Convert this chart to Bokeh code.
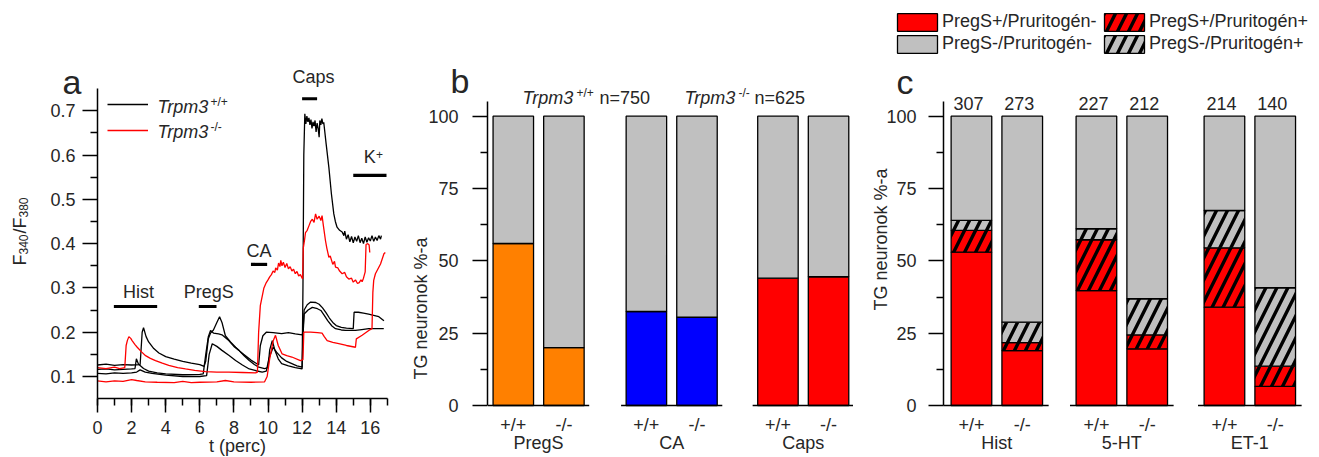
import math
from bokeh.plotting import figure
from bokeh.layouts import row
from bokeh.models import (FixedTicker, Label, LabelSet, Legend, LegendItem,
                          ColumnDataSource, Range1d, LinearAxis)
from bokeh.core.properties import value
from bokeh.embed import file_html
from bokeh.resources import INLINE

FONT = "Liberation Sans"
TXT = "#262626"

# ---------------- panel a: calcium traces (t in min, F340/F380) ----------------
wt1_t = [0, 0.5, 1.0, 1.5, 2.0, 2.5, 2.62, 2.7, 2.85, 3.0, 3.3, 3.6, 4.0, 4.5, 5.0, 5.5, 6.0, 6.25,
         6.35, 6.5, 6.63, 6.8, 7.0, 7.16, 7.3, 7.5, 7.8, 8.1, 8.4, 8.7, 9.0, 9.3, 9.45, 9.55, 9.7,
         9.9, 10.3, 10.8, 11.2, 11.6, 12.0, 12.05, 12.12, 12.3, 12.5, 12.8, 13.0, 13.2, 13.4, 13.6,
         13.8, 14.0, 14.3, 14.6, 15.0, 15.05, 15.3, 15.6, 15.9, 16.2, 16.5, 16.8]
wt1_v = [0.126, 0.128, 0.125, 0.127, 0.126, 0.127, 0.2, 0.21, 0.19, 0.178, 0.163, 0.153, 0.145,
         0.139, 0.134, 0.13, 0.127, 0.123, 0.135, 0.185, 0.198, 0.205, 0.222, 0.235, 0.222, 0.192,
         0.178, 0.166, 0.155, 0.146, 0.137, 0.13, 0.126, 0.17, 0.192, 0.2, 0.199, 0.197, 0.199,
         0.196, 0.194, 0.2, 0.25, 0.262, 0.268, 0.267, 0.263, 0.255, 0.244, 0.232, 0.222, 0.215,
         0.211, 0.209, 0.208, 0.245, 0.245, 0.243, 0.241, 0.238, 0.235, 0.226]

wt2_t = [0, 0.5, 1.0, 1.5, 2.0, 2.2, 2.28, 2.4, 2.7, 3.0, 3.5, 4.0, 5.0, 6.0, 6.2, 6.35, 6.5, 6.63,
         6.8, 7.1, 7.3, 7.7, 8.0, 8.3, 8.6, 8.9, 9.2, 9.46, 9.8, 10.0, 10.1, 10.25, 10.4, 10.6,
         10.8, 11.2, 11.6, 12.0, 12.05, 12.1, 12.16, 12.22, 12.28, 12.34, 12.4, 12.46, 12.52,
         12.58, 12.64, 12.7, 12.76, 12.82, 12.88, 12.94, 13.0, 13.04, 13.1, 13.16, 13.22, 13.27,
         13.41, 13.57, 13.72, 13.86, 13.95, 14.05, 14.2, 14.35, 14.45, 14.5, 14.6, 14.7, 14.8,
         14.9, 15.0, 15.1, 15.2, 15.3, 15.4, 15.5, 15.6, 15.7, 15.8, 15.9, 16.0, 16.1, 16.2, 16.3,
         16.4, 16.5, 16.6, 16.65]
wt2_v = [0.116, 0.117, 0.115, 0.116, 0.117, 0.118, 0.14, 0.128, 0.118, 0.112, 0.108, 0.106, 0.104,
         0.105, 0.106, 0.15, 0.19, 0.204, 0.198, 0.196, 0.194, 0.181, 0.168, 0.159, 0.147, 0.136,
         0.127, 0.121, 0.118, 0.12, 0.16, 0.181, 0.16, 0.14, 0.129, 0.124, 0.12, 0.117, 0.3, 0.6,
         0.693, 0.67, 0.688, 0.675, 0.684, 0.668, 0.68, 0.66, 0.675, 0.665, 0.678, 0.652, 0.672,
         0.66, 0.64, 0.678, 0.668, 0.682, 0.67, 0.674, 0.625, 0.572, 0.512, 0.467, 0.45, 0.437,
         0.43, 0.426, 0.418, 0.428, 0.41, 0.42, 0.404, 0.416, 0.402, 0.415, 0.405, 0.418, 0.402,
         0.412, 0.4, 0.415, 0.403, 0.413, 0.406, 0.418, 0.405, 0.415, 0.407, 0.418, 0.41, 0.418]

wt3_t = [0, 0.5, 1.0, 1.5, 2.0, 2.3, 2.5, 2.8, 3.2, 4.0, 5.0, 6.0, 6.4, 6.55, 6.73, 7.0, 7.3, 7.7,
         8.1, 8.5, 8.9, 9.3, 9.66, 9.9, 10.05, 10.3, 10.5, 10.8, 11.1, 11.4, 11.7, 12.0, 12.05,
         12.12, 12.35, 12.6, 12.9, 13.1, 13.3, 13.5, 13.75, 13.96, 14.3, 14.55, 15.13, 15.5, 15.91,
         16.4, 16.79]
wt3_v = [0.107, 0.106, 0.108, 0.107, 0.108, 0.11, 0.115, 0.11, 0.107, 0.103, 0.1, 0.1, 0.102,
         0.15, 0.174, 0.168, 0.159, 0.148, 0.136, 0.126, 0.117, 0.113, 0.11, 0.112, 0.14, 0.166,
         0.155, 0.142, 0.134, 0.129, 0.124, 0.121, 0.19, 0.241, 0.25, 0.256, 0.253, 0.249, 0.238,
         0.226, 0.214, 0.208, 0.205, 0.204, 0.204, 0.206, 0.208, 0.208, 0.208]

ko1_t = [0, 0.5, 1.0, 1.3, 1.6, 1.68, 1.75, 1.84, 1.95, 2.03, 2.2, 2.33, 2.6, 2.82, 3.1, 3.4, 3.8,
         4.18, 4.7, 5.16, 5.7, 6.33, 7.0, 7.7, 8.5, 9.27, 9.38, 9.45, 9.55, 9.76, 9.9, 10.0, 10.1,
         10.2, 10.3, 10.4, 10.45, 10.55, 10.62, 10.7, 10.75, 10.82, 10.9, 11.0, 11.1, 11.2, 11.3,
         11.4, 11.5, 11.6, 11.7, 11.8, 11.9, 12.03, 12.07, 12.15, 12.2, 12.3, 12.4, 12.5, 12.6,
         12.7, 12.79, 12.88, 13.0, 13.1, 13.17, 13.25, 13.37, 13.45, 13.57, 13.65, 13.8, 13.9,
         13.96, 14.1, 14.2, 14.35, 14.5, 14.6, 14.74, 14.9, 15.0, 15.13, 15.25, 15.35, 15.45,
         15.52, 15.6, 15.7, 15.75, 15.85, 15.93, 15.97]
ko1_v = [0.12, 0.118, 0.121, 0.118, 0.12, 0.17, 0.181, 0.19, 0.186, 0.181, 0.172, 0.166, 0.155,
         0.147, 0.141, 0.136, 0.13, 0.125, 0.12, 0.117, 0.114, 0.111, 0.11, 0.11, 0.109, 0.108,
         0.11, 0.2, 0.26, 0.3, 0.312, 0.318, 0.325, 0.33, 0.338, 0.335, 0.345, 0.34, 0.356, 0.348,
         0.362, 0.35, 0.358, 0.346, 0.355, 0.343, 0.348, 0.338, 0.342, 0.332, 0.337, 0.327, 0.33,
         0.32, 0.39, 0.41, 0.425, 0.43, 0.44, 0.45, 0.455, 0.448, 0.467, 0.455, 0.462, 0.452,
         0.463, 0.44, 0.407, 0.39, 0.369, 0.372, 0.353, 0.36, 0.347, 0.345, 0.338, 0.332, 0.335,
         0.325, 0.32, 0.322, 0.313, 0.318, 0.31, 0.312, 0.318, 0.314, 0.322, 0.336, 0.398, 0.4,
         0.397, 0.38]

ko2_t = [0, 0.5, 1.0, 1.5, 2.0, 2.3, 2.8, 3.5, 4.5, 5.0, 5.5, 6.0, 7.0, 7.5, 8.0, 9.0, 9.8, 9.95,
         10.1, 10.3, 10.44, 10.6, 10.83, 11.1, 11.4, 11.9, 12.05, 12.1, 12.5, 12.9, 13.17, 13.3,
         13.47, 13.8, 14.15, 14.6, 15.13, 15.18, 15.52, 15.91, 16.1, 16.15, 16.2, 16.3, 16.6, 16.8,
         16.88]
ko2_v = [0.09, 0.088, 0.09, 0.089, 0.093, 0.091, 0.088, 0.087, 0.086, 0.089, 0.086, 0.087, 0.088,
         0.091, 0.088, 0.087, 0.088, 0.1, 0.14, 0.18, 0.193, 0.17, 0.151, 0.147, 0.144, 0.136,
         0.138, 0.2, 0.2, 0.199, 0.198, 0.19, 0.181, 0.177, 0.174, 0.17, 0.166, 0.185, 0.193,
         0.204, 0.208, 0.29, 0.317, 0.332, 0.354, 0.377, 0.38]

stim_names = ["Hist", "PregS", "CA", "Caps", "K"]
stim_start = [0.96, 5.94, 9.0, 12.0, 15.0]
stim_end = [3.5, 6.98, 9.95, 12.88, 16.95]
stim_level = [0.258, 0.258, 0.353, 0.727, 0.554]

# ---------------- panel b ----------------
b_groups = ["PregS", "CA", "Caps"]
b_genotypes = ["+/+", "-/-"]
b_positive = [56.0, 20.0, 32.5, 30.5, 44.0, 44.5]   # % responders (+/+, -/- per group)
b_colors = ["#FF8000", "#0000FF", "#FF0000"]
n_wt, n_ko = 750, 625

# ---------------- panel c ----------------
c_groups = ["Hist", "5-HT", "ET-1"]
c_counts = [307, 273, 227, 212, 214, 140]
c_pregs_pos_prur_neg = [53.0, 19.0, 39.7, 19.6, 34.0, 6.6]
c_pregs_pos_prur_pos = [7.5, 2.7, 17.6, 4.8, 20.5, 7.0]
c_pregs_neg_prur_pos = [3.5, 7.1, 3.8, 12.5, 12.9, 27.1]

# ---------------- layout (page pixels) ----------------
H = 457
A_X0, A_W = 0, 400
B_X0, B_W = 400, 453
C_X0, C_W = 853, 466
half = math.pi / 2


def ranges(x0_page, width, axis_px, px_per_x, axis_py, py_per_y, y_at_axis):
    xs = (x0_page - axis_px) / px_per_x
    xe = (x0_page + width - axis_px) / px_per_x
    ye = y_at_axis + axis_py / py_per_y
    ys = y_at_axis - (H - axis_py) / py_per_y
    return Range1d(xs, xe), Range1d(ys, ye)


def style_axis(ax, standoff, tick_out=14, minor_out=7):
    ax.axis_line_width = 1.5
    ax.axis_line_color = "black"
    ax.major_tick_line_width = 1.5
    ax.minor_tick_line_width = 1.5
    ax.major_tick_in = 0
    ax.major_tick_out = tick_out
    ax.minor_tick_in = 0
    ax.minor_tick_out = minor_out
    ax.major_label_text_font = FONT
    ax.major_label_text_font_size = "18px"
    ax.major_label_text_color = TXT
    ax.major_label_standoff = standoff


def base_fig(width, xr, yr):
    p = figure(width=width, height=H, x_range=xr, y_range=yr, min_border=0,
               min_border_left=0, min_border_right=0, min_border_top=0, min_border_bottom=0,
               output_backend="svg", toolbar_location=None)
    p.title.visible = False
    p.outline_line_color = None
    p.xgrid.visible = False
    p.ygrid.visible = False
    p.background_fill_color = "white"
    p.border_fill_color = "white"
    return p


def page_label(p, x0_page, text, px, py, size="18px", style="normal", align="left", angle=0.0):
    # (px, py): page position of the text's vertical centre line
    p.add_layout(Label(x=p.x_range.start, y=p.y_range.end, x_offset=px - x0_page, y_offset=-py,
                       text=text, text_font=FONT, text_font_size=size, text_font_style=style,
                       text_color=TXT, text_align=align, text_baseline="middle",
                       angle=angle))


# ======================= panel a =======================
xr, yr = ranges(A_X0, A_W, 97, 17.05, 376, 443, 0.1)
pa = base_fig(A_W, xr, yr)
style_axis(pa.xaxis[0], 8)
style_axis(pa.yaxis[0], 7, tick_out=15)
pa.xaxis.fixed_location = 0.05
pa.xaxis.bounds = (0, 17)
pa.yaxis.fixed_location = 0
pa.yaxis.bounds = (0.05, 0.75)
pa.xaxis.ticker = FixedTicker(ticks=list(range(0, 17, 2)), minor_ticks=list(range(0, 18)))
pa.yaxis.ticker = FixedTicker(ticks=[0.1, 0.2, 0.3, 0.4, 0.5, 0.6, 0.7],
                              minor_ticks=[0.15, 0.25, 0.35, 0.45, 0.55, 0.65])

lw = 1.3
rb1 = pa.line(wt1_t, wt1_v, line_color="black", line_width=lw)
pa.line(wt2_t, wt2_v, line_color="black", line_width=lw)
pa.line(wt3_t, wt3_v, line_color="black", line_width=lw)
rr1 = pa.line(ko1_t, ko1_v, line_color="#FF0000", line_width=lw)
pa.line(ko2_t, ko2_v, line_color="#FF0000", line_width=lw)

pa.segment(x0=stim_start, y0=stim_level, x1=stim_end, y1=stim_level, line_color="black",
           line_width=3.2)
stim_src = ColumnDataSource(dict(
    x=[(s + e) / 2 for s, e in zip(stim_start, stim_end)], y=stim_level, text=stim_names,
    xo=[3, 1, 0, 4, 0], yo=[14.5, 14.5, 13.5, 21.5, 18]))
pa.add_layout(LabelSet(x="x", y="y", text="text", x_offset="xo", y_offset="yo", source=stim_src,
                       text_font=value(FONT), text_font_size="18px", text_color=TXT,
                       text_align="center", text_baseline="middle"))
page_label(pa, A_X0, "+", 375.5, 154, size="12px")

leg_a = Legend(items=[LegendItem(label=" ", renderers=[rb1]), LegendItem(label=" ", renderers=[rr1])],
               location=(107 - A_X0, H - 143), glyph_width=41, glyph_height=26, label_height=26,
               spacing=0, padding=0, margin=0, border_line_color=None, background_fill_alpha=0,
               label_standoff=0, label_text_font_size="1px")
pa.add_layout(leg_a)
for txt, sup, cy, sy in [("Trpm3", "+/+", 106.5, 101.5), ("Trpm3", "-/-", 131.5, 126.5)]:
    page_label(pa, A_X0, txt, 157, cy, style="italic")
    page_label(pa, A_X0, sup, 210, sy, size="12px")

page_label(pa, A_X0, "t (perc)", 237, 445, align="center")
page_label(pa, A_X0, "F", 19, 265, angle=half)
page_label(pa, A_X0, "340", 23, 254, size="12px", angle=half)
page_label(pa, A_X0, "/", 19, 233, angle=half)
page_label(pa, A_X0, "F", 19, 228, angle=half)
page_label(pa, A_X0, "380", 23, 217, size="12px", angle=half)
page_label(pa, A_X0, "a", 62, 81, size="34px")

# ======================= panel b =======================
xr, yr = ranges(B_X0, B_W, 487, 50.6, 405, 2.893, 0)
pb = base_fig(B_W, xr, yr)
b_gc = [1.01, 3.64, 6.24]
b_x = [g + d for g in b_gc for d in (-0.5, 0.5)]
b_col = [c for c in b_colors for _ in range(2)]
src_b = ColumnDataSource(dict(x=b_x, pos=b_positive, full=[100] * 6, color=b_col))
pb.vbar(x="x", width=0.8, bottom=0, top="pos", fill_color="color", line_color="black",
        line_width=1.3, source=src_b)
pb.vbar(x="x", width=0.8, bottom="pos", top="full", fill_color="#C0C0C0", line_color="black",
        line_width=1.3, source=src_b)
pb.segment(x0=[max(0, g - 1.0) for g in b_gc], y0=0, x1=[g + 1.0 for g in b_gc], y1=0,
           line_color="black", line_width=1.5)

yb = pb.yaxis[0]
style_axis(yb, 14, tick_out=15)
yb.fixed_location = 0
yb.bounds = (0, 105)
yb.ticker = FixedTicker(ticks=[0, 25, 50, 75, 100], minor_ticks=[12.5, 37.5, 62.5, 87.5])
xb = pb.xaxis[0]
style_axis(xb, 9, tick_out=0, minor_out=0)
xb.fixed_location = 0
xb.axis_line_color = None
xb.ticker = FixedTicker(ticks=b_x, minor_ticks=[])
xb.major_label_overrides = {x: b_genotypes[i % 2] for i, x in enumerate(b_x)}
gb = LinearAxis(ticker=FixedTicker(ticks=b_gc, minor_ticks=[]),
                major_label_overrides={g: n for g, n in zip(b_gc, b_groups)})
style_axis(gb, 27, tick_out=0, minor_out=0)
gb.fixed_location = 0
gb.axis_line_color = None
pb.add_layout(gb, "below")

page_label(pb, B_X0, "TG neuronok %-a", 420.5, 308, align="center", angle=half)
page_label(pb, B_X0, "Trpm3", 522, 97.8, style="italic")
page_label(pb, B_X0, "+/+", 576, 92.5, size="12px")
page_label(pb, B_X0, f"n={n_wt}", 599, 97.8)
page_label(pb, B_X0, "Trpm3", 684, 97.8, style="italic")
page_label(pb, B_X0, "-/-", 738, 92.5, size="12px")
page_label(pb, B_X0, f"n={n_ko}", 754, 97.8)
page_label(pb, B_X0, "b", 450, 80, size="34px")

# ======================= panel c =======================
xr, yr = ranges(C_X0, C_W, 943, 50.8, 405, 2.893, 0)
pc = base_fig(C_W, xr, yr)
c_gc = [1.05, 3.51, 6.03]
c_x = [g + d for g in c_gc for d in (-0.5, 0.5)]
t1 = c_pregs_pos_prur_neg
t2 = [a + b for a, b in zip(t1, c_pregs_pos_prur_pos)]
t3 = [a + b for a, b in zip(t2, c_pregs_neg_prur_pos)]
src_c = ColumnDataSource(dict(x=c_x, z=[0] * 6, t1=t1, t2=t2, t3=t3, t4=[100] * 6,
                              count=[str(n) for n in c_counts]))
common = dict(x="x", width=0.8, line_color="black", line_width=1.3, source=src_c)
hatch = dict(hatch_pattern="/", hatch_color="black", hatch_weight=3.4, hatch_scale=22)
r_c1 = pc.vbar(bottom="z", top="t1", fill_color="#FF0000", **common)
r_c2 = pc.vbar(bottom="t1", top="t2", fill_color="#FF0000", **hatch, **common)
r_c3 = pc.vbar(bottom="t2", top="t3", fill_color="#C0C0C0", **hatch, **common)
r_c4 = pc.vbar(bottom="t3", top="t4", fill_color="#C0C0C0", **common)
pc.segment(x0=[0] + [g - 1.02 for g in c_gc[1:]], y0=0, x1=[g + 1.02 for g in c_gc], y1=0,
           line_color="black", line_width=1.5)
pc.add_layout(LabelSet(x="x", y=100, text="count", x_offset=-3, y_offset=13, source=src_c,
                       text_font=value(FONT), text_font_size="18px", text_color=TXT,
                       text_align="center", text_baseline="middle"))

yc = pc.yaxis[0]
style_axis(yc, 12, tick_out=15)
yc.fixed_location = 0
yc.bounds = (0, 105)
yc.ticker = FixedTicker(ticks=[0, 25, 50, 75, 100], minor_ticks=[12.5, 37.5, 62.5, 87.5])
xc = pc.xaxis[0]
style_axis(xc, 9, tick_out=0, minor_out=0)
xc.fixed_location = 0
xc.axis_line_color = None
xc.ticker = FixedTicker(ticks=c_x, minor_ticks=[])
xc.major_label_overrides = {x: b_genotypes[i % 2] for i, x in enumerate(c_x)}
gc = LinearAxis(ticker=FixedTicker(ticks=c_gc, minor_ticks=[]),
                major_label_overrides={g: n for g, n in zip(c_gc, c_groups)})
style_axis(gc, 27, tick_out=0, minor_out=0)
gc.fixed_location = 0
gc.axis_line_color = None
pc.add_layout(gc, "below")

leg_kw = dict(glyph_width=50, glyph_height=22, label_height=22, spacing=0, padding=0, margin=0,
              border_line_color=None, background_fill_alpha=0, label_standoff=0,
              label_text_font=FONT, label_text_font_size="18px", label_text_color=TXT)
pc.add_layout(Legend(items=[LegendItem(label="PregS+/Pruritogén-", renderers=[r_c1]),
                            LegendItem(label="PregS-/Pruritogén-", renderers=[r_c4])],
                     location=(892 - C_X0, H - 54.5), **leg_kw))
pc.add_layout(Legend(items=[LegendItem(label="PregS+/Pruritogén+", renderers=[r_c2]),
                            LegendItem(label="PregS-/Pruritogén+", renderers=[r_c3])],
                     location=(1099 - C_X0, H - 54.5), **leg_kw))

page_label(pc, C_X0, "TG neuronok %-a", 880.5, 239, align="center", angle=half)
page_label(pc, C_X0, "c", 896, 81, size="34px")

layout = row(pa, pb, pc, spacing=0)
open("out.html", "w").write(file_html(layout, INLINE))
